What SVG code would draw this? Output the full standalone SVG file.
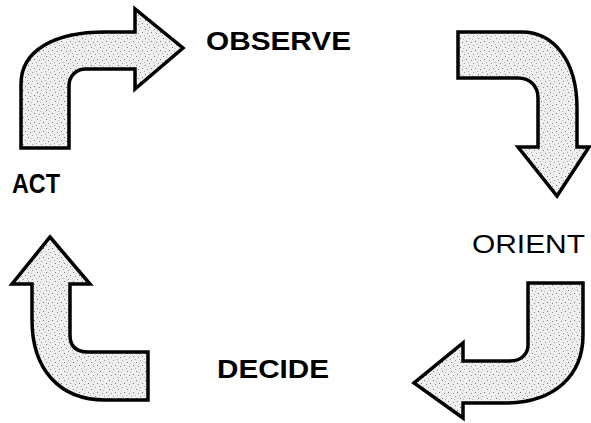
<svg xmlns="http://www.w3.org/2000/svg" width="591" height="423" viewBox="0 0 591 423">
<defs>
<pattern id="stip" width="9" height="9" patternUnits="userSpaceOnUse">
<rect width="9" height="9" fill="#efefef"/>
<rect x="1" y="2" width="1" height="1" fill="#777"/>
<rect x="5" y="0" width="1" height="1" fill="#999"/>
<rect x="7" y="5" width="1" height="1" fill="#777"/>
<rect x="3" y="6" width="1" height="1" fill="#888"/>
<rect x="0" y="8" width="1" height="1" fill="#aaa"/>
<rect x="4" y="3" width="1" height="1" fill="#bbb"/>
</pattern>
<style>
.arrow{fill:url(#stip);stroke:#000;stroke-width:3.5;stroke-linejoin:miter}
.bold{font-family:"Liberation Sans",Arial,sans-serif;font-weight:bold;fill:#000}
.reg{font-family:"Liberation Sans",Arial,sans-serif;fill:#000}
</style>
</defs>
<g id="connectors">
<path id="arrow-act-observe" class="arrow" d="M21,148 L21,84 C21,50 55,32 105,32 L135,32 L135,9 L183,48 L135,89 L135,69 L86,69 C76,69 69,76 69,86 L69,148 Z"/>
<path id="arrow-observe-orient" class="arrow" d="M458,32 L522,32 C553,32 577,60 577,108 L577,147 L589,147 L557,196 L518,147 L538,147 L538,98 C538,86 530,78 518,78 L458,78 Z"/>
<path id="arrow-orient-decide" class="arrow" d="M528,283 L583,283 L583,335 C583,375 555,403 505,403 L463,403 L463,418 L414,383 L463,343 L463,361 L510,361 C520,361 528,355 528,345 Z"/>
<path id="arrow-decide-act" class="arrow" d="M50,237 L90,284 L70,284 L70,335 C70,346 76,352 88,352 L148,352 L148,400 L105,400 C60,400 32,370 32,320 L32,284 L12,284 Z"/>
</g>
<g id="observe"><text class="bold" x="206" y="50" font-size="26" textLength="145" lengthAdjust="spacingAndGlyphs">OBSERVE</text></g>
<g id="orient"><text class="reg" x="472" y="253" font-size="25" textLength="113" lengthAdjust="spacingAndGlyphs">ORIENT</text></g>
<g id="decide"><text class="bold" x="217" y="378" font-size="26" textLength="112" lengthAdjust="spacingAndGlyphs">DECIDE</text></g>
<g id="act"><text class="bold" x="12" y="193" font-size="27" textLength="48" lengthAdjust="spacingAndGlyphs">ACT</text></g>
</svg>
